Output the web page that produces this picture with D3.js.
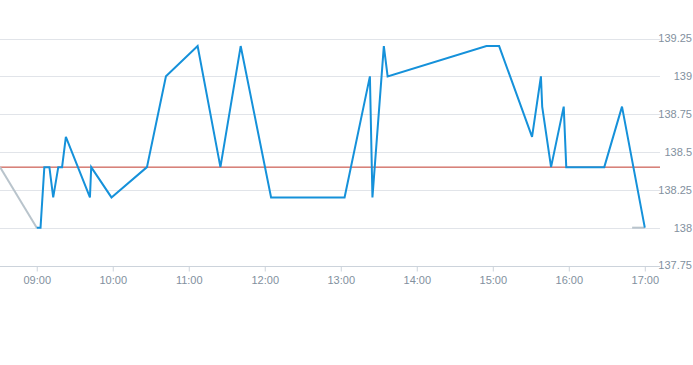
<!DOCTYPE html>
<html>
<head>
<meta charset="utf-8">
<script src="https://cdn.jsdelivr.net/npm/d3@7"></script>
<style>
  body { margin: 0; background: #fff; }
  text { font-family: "Liberation Sans", Arial, sans-serif; }
</style>
</head>
<body>
<div id="chart"></div>
<script>
// intraday price, blue series
const times = ['09:00', '09:03', '09:06', '09:10', '09:13', '09:17', '09:20', '09:23', '09:42', '09:43',
  '09:59', '10:27', '10:42', '11:07', '11:25', '11:41', '12:05', '13:03', '13:23', '13:25',
  '13:34', '13:37', '14:55', '15:05', '15:31', '15:38', '15:39', '15:46', '15:56', '15:58',
  '16:28', '16:42', '17:00']
const prices = [138.0, 138.0, 138.4, 138.4, 138.2, 138.4, 138.4, 138.6, 138.2, 138.4,
  138.2, 138.4, 139.0, 139.2, 138.4, 139.2, 138.2, 138.2, 139.0, 138.2,
  139.2, 139.0, 139.2, 139.2, 138.6, 139.0, 138.8, 138.4, 138.8, 138.4,
  138.4, 138.8, 138.0]

// grey segments (outside session)
const preTimes = ['08:31', '09:00']
const prePrices = [138.4, 138.0]
const postTimes = ['16:50', '17:00']
const postPrices = [138.0, 138.0]

const prevClose = 138.4
const yTicks = [137.75, 138, 138.25, 138.5, 138.75, 139, 139.25]
const xTicks = ['09:00', '10:00', '11:00', '12:00', '13:00', '14:00', '15:00', '16:00', '17:00']

const width = 693
const height = 365
const plotRight = 660
const plotTop = 38.5
const plotBottom = 265.5

const parse = d3.timeParse('%H:%M')
const svg = d3.select('#chart').append('svg')
  .attr('width', width)
  .attr('height', height)

const x = d3.scaleTime()
  .domain([parse('08:31'), parse('17:12')])
  .range([0, plotRight])
const y = d3.scaleLinear()
  .domain([137.75, 139.25])
  .range([plotBottom, plotTop])

// grid + y labels
svg.append('g').selectAll('line')
  .data(yTicks.filter(d => d !== 137.75))
  .enter().append('line')
  .attr('x1', 0)
  .attr('x2', plotRight)
  .attr('y1', d => Math.round(y(d)) + 0.5)
  .attr('y2', d => Math.round(y(d)) + 0.5)
  .attr('stroke', '#e1e4e9')
  .attr('stroke-width', 1)

svg.append('g').selectAll('text')
  .data(yTicks)
  .enter().append('text')
  .attr('x', 692)
  .attr('y', d => y(d))
  .attr('dy', '0.35em')
  .attr('text-anchor', 'end')
  .attr('font-size', 11)
  .attr('fill', '#82909e')
  .text(d => d3.format('~g')(d))

// x axis
const xAxis = d3.axisBottom(x)
  .tickValues(xTicks.map(parse))
  .tickFormat(d3.timeFormat('%H:%M'))
  .tickSize(5)
  .tickPadding(5)

const gx = svg.append('g')
  .attr('transform', `translate(0,${Math.round(plotBottom) + 0.5})`)
  .call(xAxis)
gx.select('.domain')
  .attr('d', `M0,0H${plotRight}`)
  .attr('stroke', '#ccd3db')
gx.selectAll('.tick line').attr('stroke', '#ccd3db')
gx.selectAll('.tick text')
  .attr('fill', '#82909e')
  .attr('font-size', 11)
  .attr('font-family', '"Liberation Sans", Arial, sans-serif')

// previous close
svg.append('line')
  .attr('x1', 0)
  .attr('x2', plotRight)
  .attr('y1', y(prevClose))
  .attr('y2', y(prevClose))
  .attr('stroke', '#c0392b')
  .attr('stroke-width', 1)

const line = d3.line()
  .x(d => x(parse(d[0])))
  .y(d => y(d[1]))

svg.append('path')
  .datum(d3.zip(preTimes, prePrices))
  .attr('d', line)
  .attr('fill', 'none')
  .attr('stroke', '#b9c4cc')
  .attr('stroke-width', 2)

svg.append('path')
  .datum(d3.zip(postTimes, postPrices))
  .attr('d', line)
  .attr('fill', 'none')
  .attr('stroke', '#b9c4cc')
  .attr('stroke-width', 2)

svg.append('path')
  .datum(d3.zip(times, prices))
  .attr('d', line)
  .attr('fill', 'none')
  .attr('stroke', '#1591da')
  .attr('stroke-width', 2)
  .attr('stroke-linejoin', 'miter')
</script>
</body>
</html>
